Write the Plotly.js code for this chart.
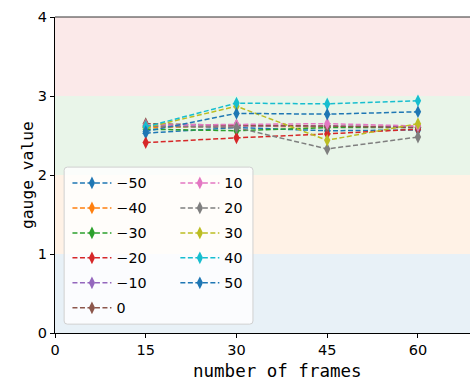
<!DOCTYPE html>
<html><head><meta charset="utf-8">
<script src="https://cdn.plot.ly/plotly-3.0.1.min.js"></script>
<style>html,body{margin:0;padding:0;background:#fff}#chart{width:470px;height:381px}</style>
</head><body><div id="chart"></div>
<script>
const frames = [15, 30, 45, 60];
const seriesNames = ['\u221250','\u221240','\u221230','\u221220','\u221210','0','10','20','30','40','50'];
const sM50 = [2.53, 2.60, 2.56, 2.57];
const sM40 = [2.60, 2.62, 2.61, 2.62];
const sM30 = [2.58, 2.56, 2.60, 2.60];
const sM20 = [2.41, 2.47, 2.52, 2.58];
const sM10 = [2.62, 2.62, 2.62, 2.61];
const s0   = [2.65, 2.63, 2.62, 2.60];
const s10  = [2.63, 2.64, 2.65, 2.62];
const s20  = [2.62, 2.60, 2.33, 2.48];
const s30  = [2.60, 2.87, 2.44, 2.65];
const s40  = [2.61, 2.91, 2.90, 2.94];
const s50  = [2.55, 2.78, 2.77, 2.80];
const seriesValues = [sM50, sM40, sM30, sM20, sM10, s0, s10, s20, s30, s40, s50];
const colors = ['#1f77b4','#ff7f0e','#2ca02c','#d62728','#9467bd','#8c564b','#e377c2','#7f7f7f','#bcbd22','#17becf','#1f77b4'];
const bands = [[0,1,'rgba(31,119,180,0.1)'],[1,2,'rgba(255,127,14,0.1)'],[2,3,'rgba(44,160,44,0.1)'],[3,4,'rgba(214,39,40,0.1)']];
const xTicks = [0, 15, 30, 45, 60];
const yTicks = [0, 1, 2, 3, 4];

const traces = seriesValues.map((v, i) => ({
  x: frames, y: v, name: seriesNames[i], type: 'scatter', mode: 'lines+markers',
  line: {color: colors[i], width: 1.5, dash: '5px,2.5px'},
  marker: {symbol: 'diamond-tall', size: 9, color: colors[i]},
  legend: i < 6 ? 'legend' : 'legend2',
  legendgroup: 'g' + i
}));

const shapes = bands.map(b => ({type:'rect', xref:'paper', x0:0, x1:1, yref:'y', y0:b[0], y1:b[1], fillcolor:b[2], line:{width:0}, layer:'below'}));
shapes.push({type:'path', xref:'paper', yref:'paper', layer:'above',
  path: 'M 0.030,0.525 L 0.469,0.525 Q 0.477,0.525 0.477,0.515 L 0.477,0.038 Q 0.477,0.028 0.469,0.028 L 0.030,0.028 Q 0.022,0.028 0.022,0.038 L 0.022,0.515 Q 0.022,0.525 0.030,0.525 Z',
  fillcolor:'rgba(255,255,255,0.8)', line:{color:'#d0d0d0', width:1}});
shapes.push({type:'line', xref:'paper', yref:'paper', x0:0, x1:1, y0:1, y1:1, line:{color:'#333', width:1}});

const legFont = {family:'DejaVu Sans', size:14.3, color:'#000'};
const layout = {
  width: 470, height: 381,
  margin: {l:55, r:0, t:17, b:48},
  paper_bgcolor:'#fff', plot_bgcolor:'#fff',
  showlegend: true,
  shapes: shapes,
  annotations: [
    {text:'number of frames', xref:'paper', yref:'paper', x:0.535, y:0, xanchor:'center', yanchor:'bottom', yshift:-49, showarrow:false, borderpad:0,
     font:{family:'DejaVu Sans Mono', size:17.5, color:'#000'}},
    {text:'gauge value', xref:'paper', yref:'paper', x:0, y:0.5, xanchor:'center', yanchor:'middle', xshift:-28, textangle:-90, showarrow:false,
     font:{family:'DejaVu Sans Mono', size:16.3, color:'#000'}}
  ],
  xaxis: {range:[0, 68.6], tickvals: xTicks, ticks:'outside', ticklen:4, tickcolor:'#000',
    showgrid:false, zeroline:false, showline:true, linecolor:'#000', linewidth:1,
    tickfont:{family:'DejaVu Sans', size:14.5, color:'#000'}},
  yaxis: {range:[0, 4], tickvals: yTicks, ticks:'outside', ticklen:4, tickcolor:'#000',
    showgrid:false, zeroline:false, showline:true, linecolor:'#000', linewidth:1,
    tickfont:{family:'DejaVu Sans', size:14.5, color:'#000'}},
  legend: {x:0.03, y:0.525, xanchor:'left', yanchor:'top', bgcolor:'rgba(0,0,0,0)', borderwidth:0, font:legFont, tracegroupgap:3.4, itemwidth:39},
  legend2: {x:0.29, y:0.525, xanchor:'left', yanchor:'top', bgcolor:'rgba(0,0,0,0)', borderwidth:0, font:legFont, tracegroupgap:3.4, itemwidth:39}
};
Plotly.newPlot('chart', traces, layout, {displayModeBar:false, staticPlot:true});
</script></body></html>
